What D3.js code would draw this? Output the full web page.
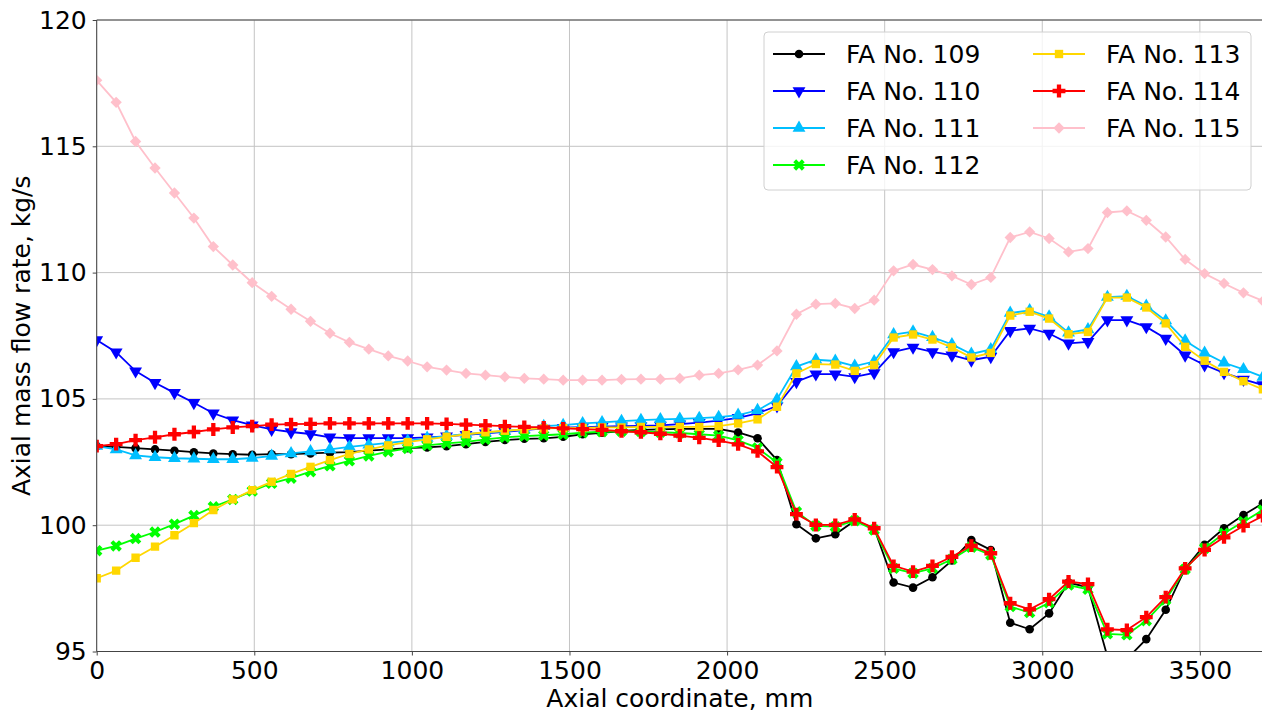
<!DOCTYPE html>
<head>
<meta charset="utf-8">
<style>
body { margin: 0; background: #fff; }
text { font-family: "DejaVu Sans", sans-serif; fill: #000; }
.grid line { stroke: #c4c4c4; stroke-width: 1px; }
.axis path, .axis line { stroke: #444; }
path.series { fill: none; stroke-width: 1.8px; }
</style>
</head>
<body>
<script src="https://cdn.jsdelivr.net/npm/d3@7"></script>
<script>

var xStep = 3700 / 60;
var xTicks = [0, 500, 1000, 1500, 2000, 2500, 3000, 3500];
var yTicks = [95, 100, 105, 110, 115, 120];

var fa109 = [103.13, 103.10, 103.05, 103.00, 102.95, 102.89, 102.84, 102.81, 102.79, 102.81, 102.81, 102.84, 102.87, 102.89, 102.95, 103.00, 103.05, 103.08,
  103.13, 103.21, 103.30, 103.37, 103.42,
  103.44, 103.50, 103.60, 103.66, 103.73, 103.77, 103.79, 103.81, 103.81, 103.81, 103.67, 103.44, 102.58,
  100.04, 99.48, 99.64, 100.18, 99.88, 97.73, 97.53, 97.94, 98.60, 99.41, 99.02, 96.14,
  95.88, 96.51, 97.73, 97.54, 94.8, 94.7, 95.49, 96.65, 98.29, 99.22, 99.88, 100.40, 100.87];

var fa110 = [107.33, 106.85, 106.10, 105.64, 105.24, 104.85, 104.43, 104.16, 103.96, 103.79, 103.69, 103.61, 103.48, 103.45, 103.45, 103.45, 103.45, 103.48,
  103.52, 103.58, 103.64, 103.70, 103.76,
  103.83, 103.86, 103.88, 103.90, 103.92, 103.93, 103.95, 104.00, 104.06, 104.14,
  104.25, 104.43, 104.72, 105.68, 105.98, 105.98, 105.87, 106.03, 106.86, 107.04, 106.86, 106.73, 106.53, 106.67, 107.70,
  107.79, 107.59, 107.20, 107.26, 108.12, 108.12, 107.85, 107.39, 106.73, 106.34, 106.03, 105.77, 105.55];

var fa111 = [103.13, 103.00, 102.76, 102.69, 102.65, 102.63, 102.61, 102.61, 102.66, 102.74, 102.84, 102.92, 103.00, 103.10, 103.18, 103.26, 103.34, 103.45,
  103.53, 103.61, 103.66, 103.73, 103.79,
  103.92, 103.96, 104.03, 104.07, 104.12, 104.16, 104.19, 104.21, 104.24, 104.28,
  104.36, 104.55, 104.98, 106.28, 106.55, 106.50, 106.30, 106.48, 107.55, 107.66, 107.44, 107.16, 106.78, 106.96, 108.40,
  108.50, 108.25, 107.62, 107.75, 109.03, 109.07, 108.68, 108.10, 107.30, 106.82, 106.43, 106.17, 105.87];

var fa112 = [98.99, 99.18, 99.47, 99.73, 100.04, 100.38, 100.73, 101.02, 101.35, 101.66, 101.86, 102.12, 102.35, 102.55, 102.74, 102.91, 103.04, 103.16,
  103.24, 103.30, 103.40, 103.48, 103.53,
  103.56, 103.60, 103.66, 103.70, 103.72, 103.71, 103.68, 103.65, 103.60, 103.55,
  103.36, 103.06, 102.48, 100.53, 99.97, 99.94, 100.18, 99.81, 98.29, 98.10, 98.29, 98.65, 99.13, 98.82, 96.78,
  96.54, 96.93, 97.63, 97.46, 95.70, 95.66, 96.22, 97.04, 98.26, 99.09, 99.68, 100.14, 100.60];

var fa113 = [97.90, 98.20, 98.71, 99.15, 99.60, 100.08, 100.60, 101.02, 101.39, 101.72, 102.03, 102.31, 102.58, 102.82, 103.00, 103.16, 103.29, 103.40,
  103.50, 103.60, 103.68, 103.74, 103.79,
  103.83, 103.84, 103.85, 103.87, 103.87, 103.89, 103.89, 103.89, 103.89, 103.92,
  104.03, 104.19, 104.69, 106.01, 106.38, 106.36, 106.11, 106.34, 107.43, 107.55, 107.35, 107.04, 106.64, 106.82, 108.30,
  108.45, 108.18, 107.56, 107.65, 109.01, 109.01, 108.62, 107.99, 107.06, 106.51, 106.07, 105.70, 105.38];

var fa114 = [103.13, 103.21, 103.37, 103.48, 103.60, 103.69, 103.79, 103.87, 103.92, 103.98, 104.00, 104.01, 104.03, 104.03, 104.03, 104.03, 104.03, 104.03,
  104.01, 103.98, 103.95, 103.92, 103.89,
  103.87, 103.83, 103.80, 103.77, 103.72, 103.68, 103.62, 103.55, 103.46, 103.35,
  103.20, 102.92, 102.30, 100.44, 100.01, 100.01, 100.23, 99.88, 98.39, 98.16, 98.39, 98.75, 99.19, 98.89, 96.91,
  96.67, 97.07, 97.77, 97.67, 95.88, 95.85, 96.36, 97.15, 98.29, 99.02, 99.52, 99.97, 100.36];

var fa115 = [117.61, 116.74, 115.19, 114.14, 113.15, 112.16, 111.03, 110.30, 109.60, 109.06, 108.55, 108.07, 107.60, 107.24, 106.97, 106.70, 106.50, 106.27,
  106.14, 106.01, 105.94, 105.87, 105.81, 105.78, 105.74, 105.74, 105.74, 105.77, 105.78, 105.78, 105.81, 105.94, 106.01, 106.15, 106.34,
  106.90, 108.35, 108.75, 108.78, 108.58, 108.91, 110.07, 110.32, 110.12, 109.87, 109.53, 109.81, 111.39,
  111.61, 111.35, 110.82, 110.95, 112.38, 112.44, 112.07, 111.41, 110.52, 109.96, 109.57, 109.20, 108.88];

var names = ["FA No. 109", "FA No. 110", "FA No. 111", "FA No. 112", "FA No. 113", "FA No. 114", "FA No. 115"];
var colors = ["#000000", "#0000ff", "#00bfff", "#00ff00", "#ffd700", "#ff0000", "#ffc0cb"];
var seriesValues = [fa109, fa110, fa111, fa112, fa113, fa114, fa115];

var width = 1262, height = 715;
var plotL = 96.7, plotR = 1262.9, plotT = 20, plotB = 651.5;

var x = d3.scaleLinear().domain([0, 3700]).range([plotL, plotR]);
var y = d3.scaleLinear().domain([95, 120]).range([plotB, plotT]);

var svg = d3.select("body").append("svg")
    .attr("width", width)
    .attr("height", height);

svg.append("defs").append("clipPath").attr("id", "plot")
  .append("rect")
    .attr("x", plotL).attr("y", plotT)
    .attr("width", plotR - plotL).attr("height", plotB - plotT);

// grid
var grid = svg.append("g").attr("class", "grid");
grid.selectAll(".gx").data(xTicks).enter().append("line")
    .attr("x1", function(d) { return x(d); }).attr("x2", function(d) { return x(d); })
    .attr("y1", plotT).attr("y2", plotB);
grid.selectAll(".gy").data(yTicks).enter().append("line")
    .attr("x1", plotL).attr("x2", plotR)
    .attr("y1", function(d) { return y(d); }).attr("y2", function(d) { return y(d); });

// marker shapes (matplotlib o v ^ X s P D)
function markerPath(i) {
  var sym = [d3.symbolCircle, d3.symbolTriangle, d3.symbolTriangle, d3.symbolCross,
             d3.symbolSquare, d3.symbolCross, d3.symbolSquare][i];
  var size = [58, 72, 72, 82, 70, 92, 64][i];
  return d3.symbol().type(sym).size(size)();
}
var markerRot = [0, 180, 0, 45, 0, 0, 45];

var plot = svg.append("g").attr("clip-path", "url(#plot)");

var line = d3.line()
    .x(function(d, i) { return x(i * xStep); })
    .y(function(d) { return y(d); });

seriesValues.forEach(function(vals, k) {
  var g = plot.append("g");
  g.append("path")
      .attr("class", "series")
      .attr("d", line(vals))
      .style("stroke", colors[k]);
  g.selectAll("path.mk")
      .data(vals)
      .enter().append("path")
      .attr("class", "mk")
      .attr("d", markerPath(k))
      .attr("transform", function(d, i) {
        return "translate(" + x(i * xStep) + "," + y(d) + ") rotate(" + markerRot[k] + ")";
      })
      .style("fill", colors[k]);
});

// axes
svg.append("g")
    .attr("class", "axis")
    .attr("transform", "translate(0," + plotB + ")")
    .call(d3.axisBottom(x).tickValues(xTicks).tickSize(4).tickPadding(6).tickFormat(d3.format("d")))
    .call(function(g) { g.select(".domain").attr("d", "M" + plotL + ",0H" + (plotR + 5)); })
    .selectAll("text").style("font-size", "25px");

svg.append("g")
    .attr("class", "axis")
    .attr("transform", "translate(" + plotL + ",0)")
    .call(d3.axisLeft(y).tickValues(yTicks).tickSize(4).tickPadding(6).tickFormat(d3.format("d")))
    .call(function(g) { g.select(".domain").attr("d", "M0," + plotB + "V" + plotT); })
    .selectAll("text").style("font-size", "25px");

svg.append("line")
    .attr("x1", plotL).attr("x2", plotR + 5)
    .attr("y1", plotT).attr("y2", plotT)
    .style("stroke", "#444");

svg.append("text")
    .attr("x", (plotL + plotR) / 2)
    .attr("y", 707)
    .attr("text-anchor", "middle")
    .style("font-size", "25px")
    .text("Axial coordinate, mm");

svg.append("text")
    .attr("transform", "translate(30," + ((plotT + plotB) / 2) + ") rotate(-90)")
    .attr("text-anchor", "middle")
    .style("font-size", "25px")
    .text("Axial mass flow rate, kg/s");

// legend
var legend = svg.append("g");
legend.append("rect")
    .attr("x", 764).attr("y", 32)
    .attr("width", 487).attr("height", 158)
    .attr("rx", 4)
    .style("fill", "#fff").style("fill-opacity", 0.8)
    .style("stroke", "#d0d0d0");

names.forEach(function(name, k) {
  var col = k < 4 ? 0 : 1;
  var row = k < 4 ? k : k - 4;
  var lx = col === 0 ? 773 : 1033;
  var ly = 54 + row * 37;
  var item = legend.append("g");
  item.append("line")
      .attr("x1", lx).attr("x2", lx + 52)
      .attr("y1", ly).attr("y2", ly)
      .style("stroke", colors[k]).style("stroke-width", 1.8);
  item.append("path")
      .attr("d", markerPath(k))
      .attr("transform", "translate(" + (lx + 26) + "," + ly + ") rotate(" + markerRot[k] + ")")
      .style("fill", colors[k]);
  item.append("text")
      .attr("x", lx + 73)
      .attr("y", ly)
      .attr("dy", "0.36em")
      .style("font-size", "25px")
      .text(name);
});

</script>
</body>
</html>
